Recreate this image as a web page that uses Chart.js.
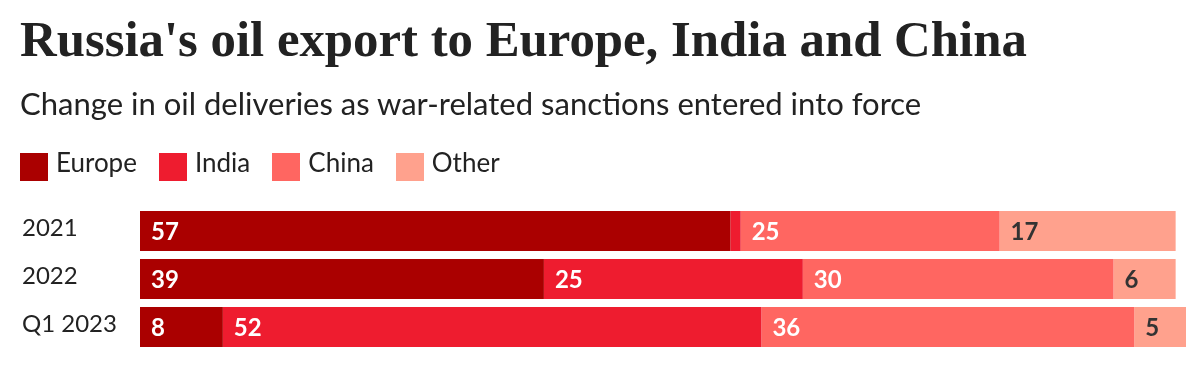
<!DOCTYPE html>
<html>
<head>
<meta charset="utf-8">
<script src="https://cdn.jsdelivr.net/npm/chart.js@4.4.1/dist/chart.umd.min.js"></script>
<style>
  body { margin: 0; background: #fff; color: #222; font-family: Lato, sans-serif; }
  #wrap { position: relative; width: 1202px; height: 380px; overflow: hidden; }
  #chart { position: absolute; left: 0; top: 0; }
  .txt { position: absolute; left: 20px; margin: 0; white-space: nowrap; line-height: normal; }
  h1.txt { font-family: 'Liberation Serif', serif; font-weight: bold; }
  h2.txt { font-family: Lato, sans-serif; font-weight: normal; }
  #legend { position: absolute; left: 20px; top: 153px; display: flex; align-items: flex-start; }
  .item { display: flex; align-items: flex-start; margin-right: 22px; }
  .box { width: 28px; height: 28px; margin-right: 8px; }
  .lbl { font-size: 26px; line-height: 26px; margin-top: -4px; }
</style>
</head>
<body>
<div id="wrap">
  <canvas id="chart" width="1202" height="380"></canvas>
  <h1 class="txt" id="title">Russia's oil export to Europe, India and China</h1>
  <h2 class="txt" id="subtitle">Change in oil deliveries as war-related sanctions entered into force</h2>
  <div id="legend"></div>
</div>
<script>
const categories = ['2021', '2022', 'Q1 2023'];
const seriesNames = ['Europe', 'India', 'China', 'Other'];
const europe = [57, 39, 8];
const india = [1, 25, 52];
const china = [25, 30, 36];
const other = [17, 6, 5];

const colors = ['#AA0000', '#EE1C2F', '#FF6661', '#FFA18D'];
const labelColors = ['#fff', '#fff', '#fff', '#333'];

// fit a line of text to a width and put its baseline at a given y
function fitText(el, width, baseline, ascent) {
  const cs = getComputedStyle(el);
  const c = document.createElement('canvas').getContext('2d');
  c.font = cs.fontWeight + ' 100px ' + cs.fontFamily;
  const size = 100 * width / c.measureText(el.textContent).width;
  el.style.fontSize = size + 'px';
  el.style.top = (baseline - ascent * size) + 'px';
}
fitText(document.getElementById('title'), 1007, 55, 0.891);
fitText(document.getElementById('subtitle'), 902, 115, 0.987);

const legend = document.getElementById('legend');
seriesNames.forEach((name, i) => {
  const item = document.createElement('div');
  item.className = 'item';
  item.innerHTML = '<div class="box" style="background:' + colors[i] + '"></div><span class="lbl">' + name + '</span>';
  legend.appendChild(item);
});

const valueLabels = {
  id: 'valueLabels',
  afterDatasetsDraw(chart) {
    const ctx = chart.ctx;
    ctx.save();
    ctx.font = 'bold 24px Lato';
    ctx.textAlign = 'left';
    ctx.textBaseline = 'middle';
    chart.data.datasets.forEach((ds, i) => {
      chart.getDatasetMeta(i).data.forEach((bar, j) => {
        const v = ds.data[j];
        if (v < 3) return;
        ctx.fillStyle = labelColors[i];
        ctx.fillText(v, bar.base + 11, bar.y + 1);
      });
    });
    ctx.restore();
  }
};

const data = {
  labels: categories,
  datasets: [europe, india, china, other].map((values, i) => ({
    label: seriesNames[i],
    data: values,
    backgroundColor: colors[i],
    borderWidth: 0,
    barPercentage: 1,
    categoryPercentage: 40 / 48,
  })),
};

new Chart(document.getElementById('chart'), {
  type: 'bar',
  data,
  plugins: [valueLabels],
  options: {
    indexAxis: 'y',
    responsive: false,
    animation: false,
    devicePixelRatio: 1,
    layout: {
      padding: { top: 207, bottom: 29, left: 22, right: 16 },
    },
    plugins: {
      legend: { display: false },
      tooltip: { enabled: false },
    },
    scales: {
      x: {
        stacked: true,
        display: false,
        min: 0,
        max: 101,
      },
      y: {
        stacked: true,
        border: { display: false },
        grid: { display: false, drawTicks: false },
        afterFit(scale) {
          scale.width = 118;
        },
        ticks: {
          crossAlign: 'far',
          labelOffset: -3,
          color: '#222',
          font: { family: 'Lato', size: 24 },
        },
      },
    },
  },
});
</script>
</body>
</html>
